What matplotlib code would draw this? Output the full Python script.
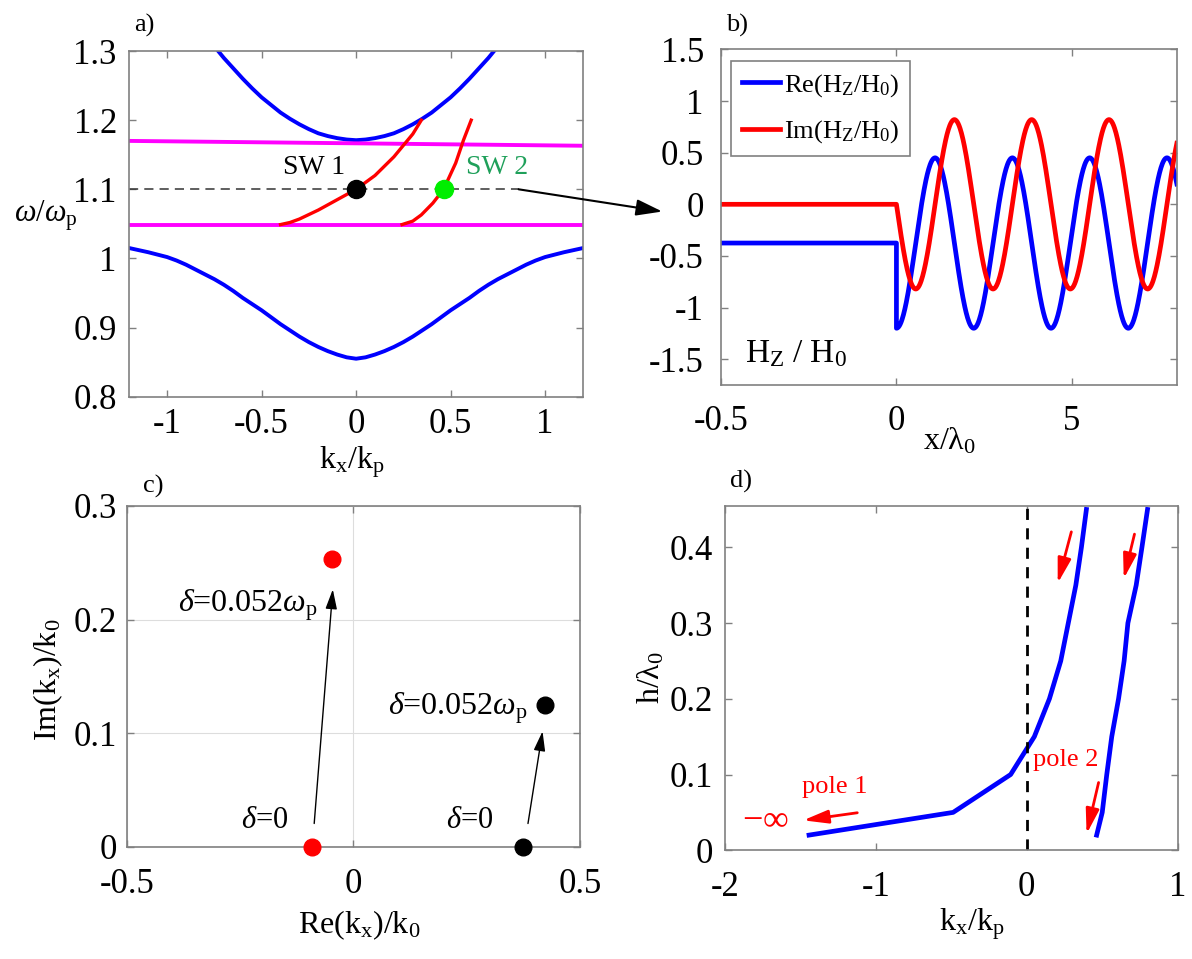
import numpy as np
import matplotlib
matplotlib.use("Agg")
import matplotlib.pyplot as plt
from matplotlib.patches import ConnectionPatch

plt.rcParams['font.family'] = ['Liberation Serif', 'DejaVu Serif']
plt.rcParams['mathtext.fontset'] = 'custom'
plt.rcParams['mathtext.rm'] = 'Liberation Serif'
plt.rcParams['mathtext.it'] = 'Liberation Serif:italic'
plt.rcParams['axes.unicode_minus'] = False

# ---- panel a: dispersion bands (omega/omega_p vs kx/kp)
upper_k = [-0.73, -0.7, -0.65, -0.6, -0.55, -0.5, -0.45, -0.4, -0.35, -0.3, -0.25, -0.2,
           -0.15, -0.1, -0.05, 0.0, 0.05, 0.1, 0.15, 0.2, 0.25, 0.3, 0.35, 0.4, 0.45,
           0.5, 0.55, 0.6, 0.65, 0.7, 0.73]
upper_w = [1.300, 1.290, 1.275, 1.260, 1.246, 1.233, 1.222, 1.211, 1.202, 1.194, 1.187,
           1.181, 1.177, 1.174, 1.172, 1.171, 1.172, 1.174, 1.177, 1.181, 1.187, 1.194,
           1.202, 1.211, 1.222, 1.233, 1.246, 1.260, 1.275, 1.290, 1.300]
lower_k = [-1.2, -1.1, -1.0, -0.95, -0.9, -0.85, -0.8, -0.75, -0.7, -0.65, -0.6, -0.55,
           -0.5, -0.45, -0.4, -0.35, -0.3, -0.25, -0.2, -0.15, -0.1, -0.05, 0.0,
           0.05, 0.1, 0.15, 0.2, 0.25, 0.3, 0.35, 0.4, 0.45, 0.5, 0.55, 0.6, 0.65,
           0.7, 0.75, 0.8, 0.85, 0.9, 0.95, 1.0, 1.1, 1.2]
lower_w = [1.015, 1.009, 1.002, 0.997, 0.991, 0.984, 0.977, 0.970, 0.962, 0.953, 0.943,
           0.934, 0.925, 0.915, 0.905, 0.896, 0.887, 0.879, 0.872, 0.866, 0.861, 0.857,
           0.855, 0.857, 0.861, 0.866, 0.872, 0.879, 0.887, 0.896, 0.905, 0.915, 0.925,
           0.934, 0.943, 0.953, 0.962, 0.970, 0.977, 0.984, 0.991, 0.997, 1.002, 1.009,
           1.015]
mag_k = [-1.2, 1.2]
mag_top_w = [1.170, 1.163]
mag_bot_w = [1.049, 1.049]
sw1_k = [-0.40, -0.35, -0.30, -0.20, -0.10, 0.0, 0.10, 0.20, 0.30, 0.345]
sw1_w = [1.049, 1.052, 1.057, 1.070, 1.085, 1.100, 1.120, 1.147, 1.180, 1.200]
sw2_k = [0.243, 0.30, 0.345, 0.406, 0.463, 0.527, 0.568, 0.609]
sw2_w = [1.049, 1.054, 1.063, 1.080, 1.100, 1.138, 1.171, 1.200]
w_op = 1.1
dash_k = [-1.2, 0.86]
sw_pts_k = [0.0, 0.463]

# ---- panel b: field Hz/H0 along x/lambda0 (levels)
x_left = [-5.0, 0.0]
re_left = -0.375
im_left = 0.0
wave_mid = -0.375
re_amp = 0.825
im_amp = 0.82
wave_period = 2.205

# ---- panel c: poles in complex kx plane
red_re = [-0.091, -0.047]
red_im = [0.0, 0.253]
blk_re = [0.374, 0.423]
blk_im = [0.0, 0.125]

# ---- panel d: pole trajectories vs thickness
h_vals = [0.02, 0.05, 0.10, 0.15, 0.20, 0.25, 0.30, 0.35, 0.40, 0.45]
pole1_k = [-1.443, -0.488, -0.107, 0.050, 0.150, 0.225, 0.275, 0.325, 0.362, 0.395]
pole2_k = [0.463, 0.500, 0.530, 0.563, 0.608, 0.645, 0.670, 0.725, 0.763, 0.800]

GRAY = '#808080'
TICK_FS = 25
LAB_FS = 23


def style(ax, xpad, ypad):
    for s in ax.spines.values():
        s.set_color(GRAY)
        s.set_linewidth(1.2)
    ax.tick_params(direction='in', length=5, width=1, color=GRAY,
                   top=True, right=True, labelsize=TICK_FS)
    ax.tick_params(axis='x', pad=xpad)
    ax.tick_params(axis='y', pad=ypad)


fig = plt.figure(figsize=(11.92, 9.59), dpi=100)
ax_a = fig.add_axes([0.1085, 0.5863, 0.3805, 0.3605])
ax_b = fig.add_axes([0.6050, 0.5985, 0.3823, 0.3500])
ax_c = fig.add_axes([0.1063, 0.1171, 0.3804, 0.3553])
ax_d = fig.add_axes([0.6082, 0.1134, 0.3798, 0.3593])

# panel a
ax_a.plot(upper_k, upper_w, color='#0000ff', lw=2.8)
ax_a.plot(lower_k, lower_w, color='#0000ff', lw=2.8)
ax_a.plot(mag_k, mag_top_w, color='#ff00ff', lw=2.8)
ax_a.plot(mag_k, mag_bot_w, color='#ff00ff', lw=2.8)
ax_a.plot(sw1_k, sw1_w, color='#ff0000', lw=2.4)
ax_a.plot(sw2_k, sw2_w, color='#ff0000', lw=2.4)
ax_a.plot(dash_k, [w_op, w_op], color='#333333', lw=1.1, ls=(0, (6, 4)))
ax_a.plot(sw_pts_k[0], w_op, 'o', color='black', ms=13)
ax_a.plot(sw_pts_k[1], w_op, 'o', color='#00ee00', ms=13)
ax_a.text(-0.222, 1.132, 'SW 1', fontsize=20, color='black', ha='center', va='center')
ax_a.text(0.745, 1.132, 'SW 2', fontsize=20, color='#1fa05a', ha='center', va='center')
ax_a.set_xlim(-1.2, 1.2)
ax_a.set_ylim(0.8, 1.3)
ax_a.set_xticks([-1, -0.5, 0, 0.5, 1])
ax_a.set_xticklabels(['-1', '-0.5', '0', '0.5', '1'])
ax_a.set_yticks([0.8, 0.9, 1.0, 1.1, 1.2, 1.3])
ax_a.set_yticklabels(['0.8', '0.9', '1', '1.1', '1.2', '1.3'])
style(ax_a, 8, 9)
ax_a.set_xlabel(r'$\mathregular{k_x/k_p}$', fontsize=LAB_FS)
ax_a.xaxis.set_label_coords(0.49, -0.137)
ax_a.set_ylabel(r'$\omega/\omega_\mathregular{p}$', fontsize=22, rotation=0,
                ha='center', va='center')
ax_a.yaxis.set_label_coords(-0.185, 0.525)

# panel b
xw = np.linspace(0, 8, 600)
re_wave = wave_mid - re_amp * np.cos(2 * np.pi * xw / wave_period)
im_wave = -im_amp * np.sin(2 * np.pi * xw / wave_period)
ax_b.plot(np.r_[x_left, xw], np.r_[[re_left, re_left], re_wave], color='#0000ff', lw=3.4,
          label=r'Re($\mathregular{H_Z/H_0}$)')
ax_b.plot(np.r_[x_left, xw], np.r_[[im_left, im_left], im_wave], color='#ff0000', lw=3.4,
          label=r'Im($\mathregular{H_Z/H_0}$)')
ax_b.set_xlim(-5, 8)
ax_b.set_ylim(-1.75, 1.5)
ax_b.set_xticks([-5, 0, 5])
ax_b.set_xticklabels(['-0.5', '0', '5'])
ax_b.set_yticks([-1.5, -1, -0.5, 0, 0.5, 1, 1.5])
ax_b.set_yticklabels(['-1.5', '-1', '-0.5', '0', '0.5', '1', '1.5'])
style(ax_b, 14.5, 12.5)
ax_b.text(-4.32, -1.45, r'$\mathregular{H_Z\ /\ H_0}$', fontsize=24, ha='left', va='center')
ax_b.set_xlabel(r'$\mathregular{x/\lambda_0}$', fontsize=LAB_FS)
ax_b.xaxis.set_label_coords(0.5, -0.122)
leg = ax_b.legend(loc='upper left', bbox_to_anchor=(0.022, 0.965), borderaxespad=0,
                  fontsize=19, fancybox=False, edgecolor=GRAY, framealpha=1,
                  handlelength=1.45, handletextpad=0.15, borderpad=0.4, labelspacing=0.75)
leg.get_frame().set_linewidth(1.2)

# arrow from operating point in a to panel b
con = ConnectionPatch(xyA=(dash_k[1], w_op), coordsA=ax_a.transData,
                      xyB=(-6.68, -0.07), coordsB=ax_b.transData,
                      arrowstyle='-|>,head_length=0.8,head_width=0.25',
                      color='black', lw=1.5, mutation_scale=20)
fig.add_artist(con)

# panel c
ax_c.grid(True, color='#dddddd', lw=0.8)
ax_c.set_axisbelow(True)
ax_c.plot(red_re, red_im, 'o', color='#ff0000', ms=12, ls='none', clip_on=False, zorder=4)
ax_c.plot(blk_re, blk_im, 'o', color='black', ms=12, ls='none', clip_on=False, zorder=4)
arrow_kw = dict(arrowstyle='-|>,head_length=0.75,head_width=0.22', color='black',
                lw=1.0, mutation_scale=16)
ax_c.annotate('', xy=(-0.045, 0.229), xytext=(-0.087, 0.018), arrowprops=arrow_kw)
ax_c.annotate('', xy=(0.418, 0.104), xytext=(0.384, 0.018), arrowprops=arrow_kw)
ax_c.text(-0.078, 0.213, r'$\delta$=0.052$\omega_\mathregular{p}$', fontsize=23,
          ha='right', va='center')
ax_c.text(0.385, 0.122, r'$\delta$=0.052$\omega_\mathregular{p}$', fontsize=23,
          ha='right', va='center')
ax_c.text(-0.196, 0.0235, r'$\delta$=0', fontsize=22, ha='center', va='center')
ax_c.text(0.257, 0.0235, r'$\delta$=0', fontsize=22, ha='center', va='center')
ax_c.set_xlim(-0.5, 0.5)
ax_c.set_ylim(0, 0.3)
ax_c.set_xticks([-0.5, 0, 0.5])
ax_c.set_xticklabels(['-0.5', '0', '0.5'])
ax_c.set_yticks([0, 0.1, 0.2, 0.3])
ax_c.set_yticklabels(['0', '0.1', '0.2', '0.3'])
style(ax_c, 15, 7)
ax_c.set_xlabel(r'Re($\mathregular{k_x}$)/$\mathregular{k_0}$', fontsize=LAB_FS)
ax_c.xaxis.set_label_coords(0.512, -0.18)
ax_c.set_ylabel(r'Im($\mathregular{k_x}$)/$\mathregular{k_0}$', fontsize=LAB_FS)
ax_c.yaxis.set_label_coords(-0.136, 0.49)

# panel d
ax_d.plot(pole1_k, h_vals, color='#0000ff', lw=3.4)
ax_d.plot(pole2_k, h_vals, color='#0000ff', lw=3.4)
ax_d.axvline(0, color='black', lw=2, ls=(0, (4, 3)))
red_kw = dict(arrowstyle='-|>,head_length=0.75,head_width=0.2', color='#ff0000',
              lw=2, mutation_scale=20)
ax_d.annotate('', xy=(0.200, 0.349), xytext=(0.30, 0.424), arrowprops=red_kw)
ax_d.annotate('', xy=(0.638, 0.355), xytext=(0.718, 0.421), arrowprops=red_kw)
ax_d.annotate('', xy=(0.392, 0.018), xytext=(0.48, 0.093), arrowprops=red_kw)
ax_d.annotate('', xy=(-1.50, 0.039), xytext=(-1.105, 0.050), arrowprops=red_kw)
ax_d.text(-1.275, 0.084, 'pole 1', fontsize=19, color='#ff0000', ha='center', va='center')
ax_d.text(0.257, 0.119, 'pole 2', fontsize=19, color='#ff0000', ha='center', va='center')
ax_d.text(-1.73, 0.040, r'$-\infty$', fontsize=26, color='#ff0000', ha='center', va='center')
ax_d.set_xlim(-2, 1)
ax_d.set_ylim(0, 0.455)
ax_d.set_xticks([-2, -1, 0, 1])
ax_d.set_xticklabels(['-2', '-1', '0', '1'])
ax_d.set_yticks([0, 0.1, 0.2, 0.3, 0.4])
ax_d.set_yticklabels(['0', '0.1', '0.2', '0.3', '0.4'])
style(ax_d, 15, 8.5)
ax_d.set_xlabel(r'$\mathregular{k_x/k_p}$', fontsize=LAB_FS)
ax_d.xaxis.set_label_coords(0.545, -0.162)
ax_d.set_ylabel(r'$\mathregular{h/\lambda_0}$', fontsize=LAB_FS)
ax_d.yaxis.set_label_coords(-0.13, 0.5)

# panel tags
fig.text(134 / 1192, 1 - 25 / 959, 'a)', fontsize=19, va='center')
fig.text(726 / 1192, 1 - 25 / 959, 'b)', fontsize=19, va='center')
fig.text(143 / 1192, 1 - 486 / 959, 'c)', fontsize=19, va='center')
fig.text(730 / 1192, 1 - 481 / 959, 'd)', fontsize=19, va='center')

fig.savefig('out.png', dpi=100)
